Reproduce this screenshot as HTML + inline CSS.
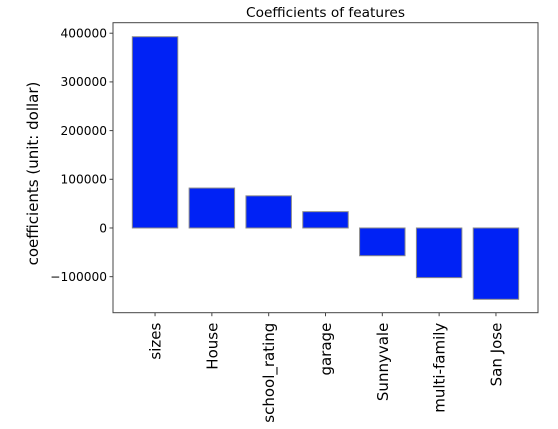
<!DOCTYPE html>
<html><head><meta charset="utf-8"><style>
html,body{margin:0;padding:0;background:#fff;width:558px;height:429px;overflow:hidden}
svg{display:block;font-family:"DejaVu Sans","Liberation Sans",sans-serif}
</style></head><body>
<svg id="chart" width="558" height="429"></svg>
<script>
const categories=["sizes","House","school_rating","garage","Sunnyvale","multi-family","San Jose"];
const coefValues=[392800,82000,66000,33500,-57000,-102000,-146500];
const yTicks=[-100000,0,100000,200000,300000,400000];
const yTickLabels=["\u2212100000","0","100000","200000","300000","400000"];
const svg=document.getElementById('chart');
const NS='http://www.w3.org/2000/svg';
const L=113,R=538,T=22.7,B=312.7;
const yMin=-174000,yMax=421600,xMin=-0.74,xMax=categories.length-1+0.74;
function x(i){return L+(i-xMin)/(xMax-xMin)*(R-L);}
function y(v){return B-(v-yMin)/(yMax-yMin)*(B-T);}
function mk(tag,attrs,txt){const e=document.createElementNS(NS,tag);for(const k in attrs)e.setAttribute(k,attrs[k]);if(txt!==undefined)e.textContent=txt;svg.appendChild(e);return e;}
let t=mk('text',{x:325.5,y:17,'text-anchor':'middle','font-size':'13.7'},'Coefficients of features');


coefValues.forEach((v,i)=>{
 const y0=y(0),y1=y(v);
 const r=mk('rect',{x:x(i-0.4),y:Math.min(y0,y1),width:x(0.4)-x(-0.4),height:Math.abs(y1-y0),fill:'#0022f5',stroke:'#8a8a8a','stroke-width':'1'});
 
 
});
const ax=mk('rect',{x:L,y:T,width:R-L,height:B-T,fill:'none',stroke:'#444','stroke-width':'1'});


yTicks.forEach((v,i)=>{
 mk('line',{x1:L-3.5,x2:L,y1:y(v),y2:y(v),stroke:'#444'});
 const tl=mk('text',{x:L-6,y:y(v)+4.3,'text-anchor':'end','font-size':'12.2'},yTickLabels[i]);
 
 
});
categories.forEach((c,i)=>{
 mk('line',{x1:x(i),x2:x(i),y1:B,y2:B+3.5,stroke:'#444'});
 const tl=mk('text',{x:0,y:0,'text-anchor':'end','font-size':'15','textLength':'','transform':`translate(${x(i)+5.5},${B+10}) rotate(-90)`},c);
 tl.removeAttribute('textLength');
 
 
});
const yl=mk('text',{x:0,y:0,'text-anchor':'middle','font-size':'15',transform:`translate(38,173.5) rotate(-90)`},'coefficients (unit: dollar)');


</script>
</body></html>
